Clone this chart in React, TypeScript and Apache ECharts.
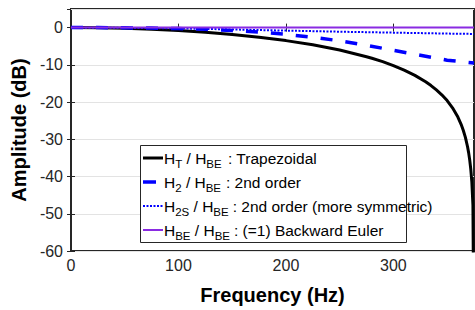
import React, { useEffect, useRef } from "react";
import * as echarts from "echarts";

const FONT = "'Liberation Sans', Arial, Helvetica, sans-serif";

// Frequencies (Hz) and amplitudes (dB)
const trapFreq = [0, 25, 50, 75, 100, 125, 150, 175, 200, 225, 250, 275, 280, 290, 300, 310, 320, 330, 335, 340, 345, 350, 355, 360, 363, 365, 367, 369, 370, 371, 372, 373, 374, 375];
const trapAmp = [0, -0.05, -0.19, -0.44, -0.79, -1.25, -1.84, -2.58, -3.49, -4.62, -6.02, -7.81, -8.24, -9.13, -10.2, -11.41, -12.83, -14.55, -15.56, -16.74, -18.04, -19.6, -21.55, -24.04, -25.98, -27.56, -29.49, -32.0, -33.58, -35.52, -38.01, -41.5, -47.6, -90];

const secondFreq = [0, 25, 50, 75, 100, 125, 150, 175, 200, 225, 250, 275, 300, 325, 350, 375];
const secondAmp = [0, 0, -0.05, -0.12, -0.25, -0.45, -0.8, -1.2, -1.8, -2.6, -3.55, -4.75, -6.1, -7.4, -8.75, -9.5];

const symFreq = [0, 50, 100, 150, 200, 250, 300, 350, 375];
const symAmp = [0, -0.05, -0.2, -0.5, -0.8, -1.1, -1.35, -1.6, -1.7];

const beFreq = [0, 375];
const beAmp = [0, 0];

const yTicks = [0, -10, -20, -30, -40, -50, -60];
const xTicks = [0, 100, 200, 300];

// Legend rows: [main-or-sub segments], description
const legendSeg: [string, boolean][][] = [
  [["H", false], ["T", true], [" / H", false], ["BE", true]],
  [["H", false], ["2", true], [" / H", false], ["BE", true]],
  [["H", false], ["2S", true], [" / H", false], ["BE", true]],
  [["H", false], ["BE", true], [" / H", false], ["BE", true]],
];
const legendDesc = [": Trapezoidal", ": 2nd order", ": 2nd order (more symmetric)", ": (=1) Backward Euler"];
const legendDescX = [228, 226, 229, 229];

const pairs = (xs: number[], ys: number[]) => xs.map((x, i) => [x, ys[i]]);

const MAIN_FS = 15.5;
const SUB_FS = 11.5;

function measure(text: string, fs: number): number {
  try {
    const c = document.createElement("canvas").getContext("2d");
    if (c) {
      c.font = `${fs}px ${FONT}`;
      return c.measureText(text).width;
    }
  } catch (e) {}
  return text.length * fs * 0.55;
}

export default function App() {
  const ref = useRef<HTMLDivElement>(null);
  useEffect(() => {
    if (!ref.current) return;
    const chart = echarts.init(ref.current, null, { renderer: "svg" });
    const axisColor = "#262626";
    const xBase = {
      type: "value",
      min: 0,
      max: 375,
      interval: 100,
      gridIndex: 0,
      splitLine: { show: false },
      axisLine: { show: false },
      axisTick: { show: true, inside: true, length: 4, lineStyle: { color: axisColor, width: 1 } },
    };
    const yBase = {
      type: "value",
      min: -60,
      max: 5,
      interval: 10,
      gridIndex: 0,
      axisLine: { show: false },
      axisTick: { show: true, inside: true, length: 4, lineStyle: { color: axisColor, width: 1 } },
    };

    const seriesStyles = [
      { color: "#000000", width: 3, dash: null as number[] | null },
      { color: "#0000ff", width: 3.5, dash: [12, 13] },
      { color: "#0000ff", width: 2, dash: [2, 1.5] },
      { color: "#8a2be2", width: 2, dash: null },
    ];

    // Legend drawn with graphic elements
    const boxX = 140.5, boxY = 145.5, boxW = 266, boxH = 97;
    const rowY = [158, 182, 206, 230];
    const legendEls: any[] = [
      {
        type: "rect",
        shape: { x: boxX, y: boxY, width: boxW, height: boxH },
        style: { fill: "#ffffff", stroke: axisColor, lineWidth: 1 },
        z: 100,
      },
    ];
    rowY.forEach((y, i) => {
      const s = seriesStyles[i];
      legendEls.push({
        type: "line",
        shape: { x1: 143, y1: y, x2: 163, y2: y },
        style: { stroke: s.color, lineWidth: s.width, lineDash: i === 1 ? [13, 13] : s.dash || undefined },
        z: 101,
      });
      let x = 164;
      legendSeg[i].forEach(([t, sub]) => {
        const fs = sub ? SUB_FS : MAIN_FS;
        legendEls.push({
          type: "text",
          x: x,
          y: sub ? y + 5.5 : y,
          style: {
            text: t,
            fontSize: fs,
            fontFamily: FONT,
            fill: "#000",
            textAlign: "left",
            textVerticalAlign: "middle",
            align: "left",
            verticalAlign: "middle",
          },
          z: 102,
        });
        x += measure(t, fs);
      });
      legendEls.push({
        type: "text",
        x: Math.max(legendDescX[i], x + 4),
        y: y,
        style: {
          text: legendDesc[i],
          fontSize: MAIN_FS,
          fontFamily: FONT,
          fill: "#000",
          textAlign: "left",
          textVerticalAlign: "middle",
          align: "left",
          verticalAlign: "middle",
        },
        z: 102,
      });
    });

    const names = ["H_T / H_BE : Trapezoidal", "H_2 / H_BE : 2nd order", "H_2S / H_BE : 2nd order (more symmetric)", "H_BE / H_BE : (=1) Backward Euler"];
    const dataSets = [pairs(trapFreq, trapAmp), pairs(secondFreq, secondAmp), pairs(symFreq, symAmp), pairs(beFreq, beAmp)];

    chart.setOption({
      animation: false,
      backgroundColor: "#ffffff",
      grid: {
        left: 71,
        top: 9,
        width: 403,
        height: 247,
        show: true,
        borderColor: axisColor,
        borderWidth: 2,
        backgroundColor: "transparent",
      },
      xAxis: [
        {
          ...xBase,
          position: "bottom",
          name: "Frequency (Hz)",
          nameLocation: "middle",
          nameGap: 34,
          nameTextStyle: { fontFamily: FONT, fontSize: 20, fontWeight: "bold", color: "#000" },
          axisLabel: {
            show: true,
            margin: 6,
            showMaxLabel: false,
            fontFamily: FONT,
            fontSize: 16,
            color: axisColor,
            formatter: (v: number) => (xTicks.includes(v) ? String(v) : ""),
          },
        },
        {
          ...xBase,
          position: "top",
          axisLabel: { show: false },
        },
      ],
      yAxis: [
        {
          ...yBase,
          position: "left",
          name: "Amplitude (dB)",
          nameLocation: "middle",
          nameGap: 29,
          nameTextStyle: { fontFamily: FONT, fontSize: 20, fontWeight: "bold", color: "#000" },
          splitLine: { show: true, lineStyle: { color: "#e3e3e3", width: 1 } },
          axisLabel: {
            show: true,
            margin: 8,
            showMaxLabel: false,
            fontFamily: FONT,
            fontSize: 16,
            color: axisColor,
            formatter: (v: number) => (yTicks.includes(v) ? String(v) : ""),
          },
        },
        {
          ...yBase,
          position: "right",
          splitLine: { show: false },
          axisLabel: { show: false },
        },
      ],
      graphic: legendEls,
      series: dataSets.map((d, i) => ({
        name: names[i],
        type: "line",
        data: d,
        symbol: "none",
        lineStyle: {
          color: seriesStyles[i].color,
          width: seriesStyles[i].width,
          type: seriesStyles[i].dash || "solid",
        },
        itemStyle: { color: seriesStyles[i].color },
        clip: true,
      })),
    });
    return () => chart.dispose();
  }, []);
  return (
    <div
      ref={ref}
      style={{ position: "fixed", left: 0, top: 0, width: 475, height: 310, background: "#fff" }}
    />
  );
}
